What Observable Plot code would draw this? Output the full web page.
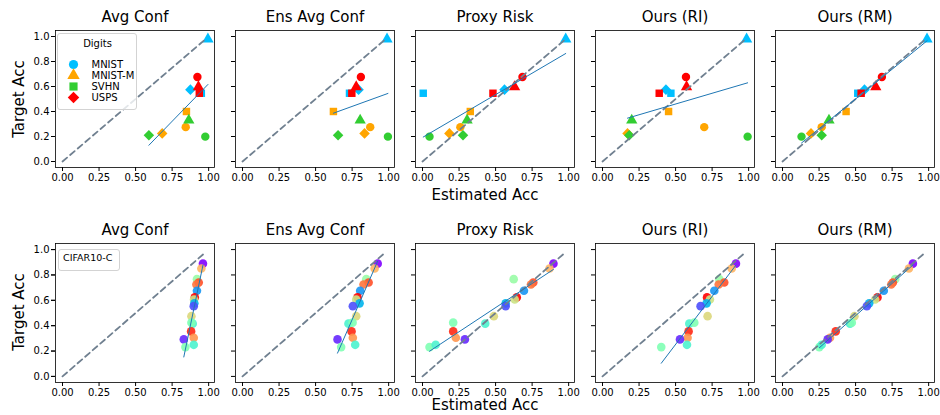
<!DOCTYPE html>
<html>
<head>
<meta charset="utf-8">
<script src="https://cdn.jsdelivr.net/npm/d3@7"></script>
<script src="https://cdn.jsdelivr.net/npm/@observablehq/plot@0.6"></script>
<style>
  body { margin: 0; background: #fff; font-family: "DejaVu Sans", sans-serif; }
  #fig { position: relative; width: 940px; height: 415px; overflow: hidden; }
  .lbl { position: absolute; font-size: 15px; white-space: nowrap; color: #000; }
  .legbox { position: absolute; border: 1px solid #d3d3d3; border-radius: 3px; background: rgba(255,255,255,0.8); box-sizing: border-box; }
</style>
</head>
<body>
<div id="fig"></div>
<script>
// ---------- data ----------
const methods = ["Avg Conf", "Ens Avg Conf", "Proxy Risk", "Ours (RI)", "Ours (RM)"];
const xTicks = [0, 0.25, 0.5, 0.75, 1.0];
const yTicks = [0, 0.2, 0.4, 0.6, 0.8, 1.0];
const diagonal = [0, 0.98];

// Digits (top row): colour = target domain, marker = source domain
const digitNames = ["MNIST", "MNIST-M", "SVHN", "USPS"];
const digitColors = ["#00bfff", "#ffa500", "#32cd32", "#ff0000"];
const digitTarget = ["MNIST", "MNIST", "MNIST", "USPS", "USPS", "USPS", "MNIST-M", "MNIST-M", "MNIST-M", "SVHN", "SVHN", "SVHN"];
const digitSource = ["MNIST-M", "USPS", "SVHN", "MNIST", "MNIST-M", "SVHN", "SVHN", "MNIST", "USPS", "MNIST-M", "USPS", "MNIST"];
const digitTargetAcc = [0.979, 0.575, 0.546, 0.676, 0.597, 0.546, 0.40, 0.275, 0.225, 0.33, 0.21, 0.199];
const digitEstAvgConf = [0.995, 0.875, 0.95, 0.923, 0.93, 0.936, 0.848, 0.843, 0.682, 0.864, 0.591, 0.977];
const digitEstEnsAvgConf = [0.989, 0.794, 0.732, 0.81, 0.778, 0.748, 0.622, 0.874, 0.835, 0.805, 0.654, 0.995];
const digitEstProxyRisk = [0.98, 0.561, 0.005, 0.684, 0.63, 0.482, 0.327, 0.259, 0.184, 0.305, 0.277, 0.048];
const digitEstOursRI = [0.986, 0.434, 0.468, 0.571, 0.575, 0.388, 0.452, 0.696, 0.171, 0.20, 0.183, 0.993];
const digitEstOursRM = [0.989, 0.561, 0.515, 0.68, 0.638, 0.538, 0.435, 0.268, 0.195, 0.318, 0.268, 0.13];

// CIFAR10-C (bottom row): colour index along the rainbow colormap
const cifarIndex = [0, 0.75, 0.55, 0.9, 0.85, 0.2, 1.0, 0.65, 0.25, 0.1, 0.68, 0.4, 0.5, 0.95, 0.8, 0.05, 0.5, 0.4];
const cifarTargetAcc = [0.889, 0.851, 0.767, 0.74, 0.725, 0.676, 0.623, 0.607, 0.576, 0.554, 0.475, 0.416, 0.424, 0.355, 0.305, 0.292, 0.231, 0.249];
const cifarEstAvgConf = [0.961, 0.95, 0.92, 0.932, 0.916, 0.92, 0.905, 0.9, 0.902, 0.898, 0.882, 0.891, 0.882, 0.88, 0.898, 0.83, 0.841, 0.898];
const cifarEstEnsAvgConf = [0.925, 0.904, 0.847, 0.863, 0.828, 0.805, 0.787, 0.778, 0.801, 0.755, 0.778, 0.725, 0.753, 0.746, 0.755, 0.65, 0.675, 0.771];
const cifarEstProxyRisk = [0.896, 0.869, 0.624, 0.758, 0.742, 0.694, 0.645, 0.631, 0.569, 0.569, 0.488, 0.429, 0.21, 0.21, 0.228, 0.29, 0.048, 0.09];
const cifarEstOursRI = [0.913, 0.884, 0.799, 0.833, 0.795, 0.765, 0.715, 0.735, 0.712, 0.671, 0.719, 0.594, 0.628, 0.589, 0.582, 0.53, 0.402, 0.578];
const cifarEstOursRM = [0.892, 0.865, 0.771, 0.755, 0.744, 0.693, 0.65, 0.634, 0.593, 0.577, 0.492, 0.462, 0.474, 0.364, 0.325, 0.309, 0.252, 0.268];

// ---------- helpers ----------
// matplotlib-style "D" marker: a square turned by 45 degrees
const diamondD = {
  draw(context, size) {
    const s = Math.sqrt(size) / Math.SQRT2;
    context.moveTo(0, -s);
    context.lineTo(s, 0);
    context.lineTo(0, s);
    context.lineTo(-s, 0);
    context.closePath();
  }
};
const digitSymbols = ["circle", "triangle", "square", diamondD];

function mplRainbow(t) {
  const c = v => Math.max(0, Math.min(1, v)) * 255;
  return d3.rgb(c(Math.abs(2 * t - 0.5)), c(Math.sin(Math.PI * t)), c(Math.cos(Math.PI * t / 2))).formatHex();
}

const digitEst = [digitEstAvgConf, digitEstEnsAvgConf, digitEstProxyRisk, digitEstOursRI, digitEstOursRM];
const cifarEst = [cifarEstAvgConf, cifarEstEnsAvgConf, cifarEstProxyRisk, cifarEstOursRI, cifarEstOursRM];

const digitRows = methods.flatMap((m, k) => digitEst[k].map((x, i) => ({
  method: m, x, y: digitTargetAcc[i], source: digitSource[i], target: digitTarget[i]
})));
const cifarRows = methods.flatMap((m, k) => cifarEst[k].map((x, i) => ({
  method: m, x, y: cifarTargetAcc[i], c: cifarIndex[i]
})));

const fig = document.getElementById("fig");

function commonMarks() {
  return [
    Plot.frame({stroke: "#000", strokeWidth: 0.8}),
    Plot.axisX({ticks: xTicks, tickFormat: d3.format(".2f"), tickSize: 4, tickPadding: 2, label: null}),
    Plot.axisY({ticks: yTicks, tickFormat: d3.format(".1f"), tickSize: 4, tickPadding: 2, label: null}),
    Plot.axisY({ticks: yTicks, tickFormat: () => "", tickSize: 4, label: null, facetAnchor: null}),
    Plot.text(methods, {fx: d => d, text: d => d, frameAnchor: "top", lineAnchor: "middle", dy: -13, fontSize: 15})
  ];
}

function rowPlot(height, marginTop, extra, scales) {
  return Plot.plot(Object.assign({
    width: 940, height,
    marginLeft: 53, marginRight: 3, marginTop, marginBottom: 33,
    style: {fontFamily: "DejaVu Sans, sans-serif", fontSize: "10px", background: "transparent", color: "#000"},
    fx: {domain: methods, paddingInner: 0.116, paddingOuter: 0, axis: null, label: null},
    x: {domain: [-0.048, 1.04], label: null},
    y: {domain: [-0.048, 1.048], label: null},
    marks: extra
  }, scales));
}

// ---------- top row ----------
const topPlot = rowPlot(200, 30, [
  ...commonMarks(),
  Plot.dot(digitRows, {fx: "method", x: "x", y: "y", fill: "target", symbol: "source", r: 4.2}),
  Plot.line(diagonal, {x: d => d, y: d => d, stroke: "#708090", strokeWidth: 1.8, strokeDasharray: "6,4"}),
  Plot.linearRegressionY(digitRows, {fx: "method", x: "x", y: "y", ci: 0, stroke: "#1f77b4", strokeWidth: 1})
], {
  color: {domain: digitNames, range: digitColors},
  symbol: {domain: digitNames, range: digitSymbols}
});
topPlot.style.position = "absolute"; topPlot.style.left = "0px"; topPlot.style.top = "0px";
fig.appendChild(topPlot);

// ---------- bottom row ----------
const bottomPlot = rowPlot(215, 43, [
  ...commonMarks(),
  Plot.dot(cifarRows, {fx: "method", x: "x", y: "y", fill: d => mplRainbow(d.c), fillOpacity: 0.9, r: 4.3}),
  Plot.line(diagonal, {x: d => d, y: d => d, stroke: "#708090", strokeWidth: 1.8, strokeDasharray: "6,4"}),
  Plot.linearRegressionY(cifarRows, {fx: "method", x: "x", y: "y", ci: 0, stroke: "#1f77b4", strokeWidth: 1})
], {});
bottomPlot.style.position = "absolute"; bottomPlot.style.left = "0px"; bottomPlot.style.top = "200px";
fig.appendChild(bottomPlot);

// ---------- legends ----------
const legBox = document.createElement("div");
legBox.className = "legbox";
Object.assign(legBox.style, {left: "57px", top: "33px", width: "80px", height: "77px"});
const leg = Plot.plot({
  width: 78, height: 75, margin: 0,
  style: {fontFamily: "DejaVu Sans, sans-serif", fontSize: "10px", background: "transparent", color: "#000"},
  x: {domain: [0, 1], axis: null},
  y: {type: "point", domain: digitNames, range: [24, 69], axis: null},
  color: {domain: digitNames, range: digitColors},
  symbol: {domain: digitNames, range: digitSymbols},
  marks: [
    Plot.text(["Digits"], {frameAnchor: "top", lineAnchor: "middle", dy: 9, text: d => d, fontSize: 10}),
    Plot.dot(digitNames, {y: d => d, frameAnchor: "left", dx: 15, symbol: d => d, fill: d => d, r: 4.6}),
    Plot.text(digitNames, {y: d => d, frameAnchor: "left", dx: 33, text: d => d, textAnchor: "start", fontSize: 10})
  ]
});
legBox.appendChild(leg);
fig.appendChild(legBox);

const leg2 = document.createElement("div");
leg2.className = "legbox";
Object.assign(leg2.style, {left: "58px", top: "249px", width: "62px", height: "22px", fontSize: "9.5px", paddingLeft: "4px", paddingTop: "2px"});
leg2.textContent = "CIFAR10-C";
fig.appendChild(leg2);

// ---------- axis titles ----------
function addLabel(text, x, y, rotate) {
  const d = document.createElement("div");
  d.className = "lbl";
  d.textContent = text;
  d.style.left = x + "px";
  d.style.top = y + "px";
  d.style.transform = "translate(-50%, -50%)" + (rotate ? " rotate(-90deg)" : "");
  fig.appendChild(d);
}
addLabel("Estimated Acc", 485, 195, false);
addLabel("Estimated Acc", 485, 405, false);
addLabel("Target Acc", 19, 99, true);
addLabel("Target Acc", 19, 312, true);
</script>
</body>
</html>
